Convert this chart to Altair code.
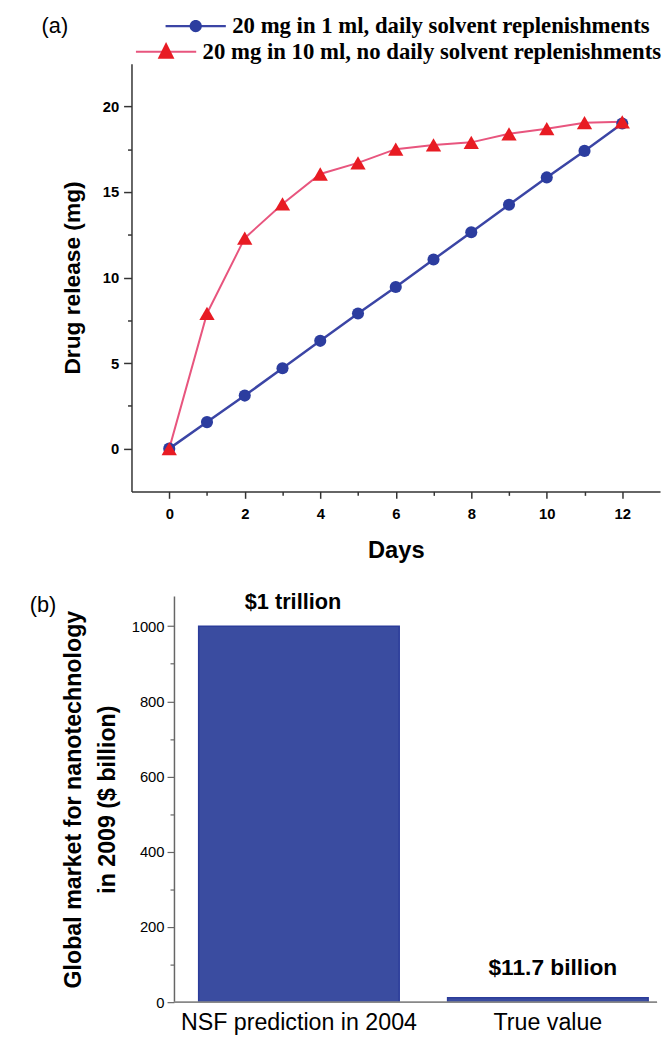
import altair as alt
import pandas as pd

# ---------------- Panel (a) data ----------------
days = list(range(13))
daily_replenish = [0, 1.55, 3.1, 4.7, 6.3, 7.9, 9.45, 11.05, 12.65, 14.25, 15.85, 17.4, 19.0]
no_replenish = [0, 7.9, 12.3, 14.3, 16.05, 16.7, 17.5, 17.75, 17.9, 18.4, 18.7, 19.05, 19.1]
series_names = ["20 mg in 1 ml, daily solvent replenishments",
                "20 mg in 10 ml, no daily solvent replenishments"]
x_ticks = list(range(13))
y_ticks = [0, 2.5, 5, 7.5, 10, 12.5, 15, 17.5, 20]

# ---------------- Panel (b) data ----------------
bar_categories = ["NSF prediction in 2004", "True value"]
bar_values = [1000, 11.7]
bar_labels = ["$1 trillion", "$11.7 billion"]
bar_y_ticks = list(range(0, 1001, 100))

panel_tags = ["(a)", "(b)"]

BLUE_LINE = "#3b45a5"
BLUE_PT = "#2c3d9f"
RED_LINE = "#e8557e"
RED_PT = "#e81b23"
BAR = "#3a4ca0"
SANS = "Liberation Sans"
SERIF = "Liberation Serif"

df = pd.DataFrame({
    "day": days * 2,
    "value": daily_replenish + no_replenish,
    "series": [series_names[0]] * len(days) + [series_names[1]] * len(days),
})
bdf = pd.DataFrame({"cat": bar_categories, "val": bar_values, "label": bar_labels})

# legend symbol glyphs (unit space, scaled by sqrt(symbolSize)/2)
PATH_LINE = ("M-3.05,-0.11L-0.4,-0.11L-0.4,0.11L-3.05,0.11Z"
             "M0.4,-0.11L3.05,-0.11L3.05,0.11L0.4,0.11Z")
PATH_CIRCLE = "M0.62,0A0.62,0.62,0,1,1,-0.62,0A0.62,0.62,0,1,1,0.62,0Z"
PATH_TRI = "M0,-1L0.85,0.7L-0.85,0.7Z"


def tsize(test, major, minor, cond):
    if cond:
        return {"condition": {"test": test, "value": major}, "value": minor}
    return major


def tag_layer(chart_base, field, tag, lx, ly):
    """Panel tag drawn as a one-entry legend with an invisible symbol."""
    leg = alt.Legend(title=None, orient="none", legendX=lx, legendY=ly,
                     symbolSize=1, symbolOpacity=0, symbolStrokeWidth=0,
                     labelFont=SANS, labelFontSize=22, labelColor="black",
                     labelOffset=0, labelLimit=200, padding=0, offset=0)
    return chart_base.transform_filter("false").mark_point(opacity=0).encode(
        shape=alt.Shape(f"{field}:N", scale=alt.Scale(domain=[tag], range=["circle"]),
                        legend=leg))


def build(cond=True):
    x = alt.X("day:Q", scale=alt.Scale(domain=[-1, 13], nice=False, zero=False),
              axis=alt.Axis(title="Days", values=x_ticks,
                            labelExpr="datum.value % 2 === 0 ? datum.label : ''",
                            tickSize=tsize("datum.value % 2 === 0", 7, 4, cond),
                            grid=False, labelFont=SANS, labelFontWeight="bold",
                            labelFontSize=15, labelColor="black", labelPadding=8,
                            titleFont=SANS, titleFontWeight="bold", titleFontSize=24,
                            titleColor="black", titlePadding=18,
                            domainColor="#333", tickColor="#333",
                            domainWidth=1.5, tickWidth=1.5))
    y = alt.Y("value:Q", scale=alt.Scale(domain=[-2.5, 22.5], nice=False, zero=False),
              axis=alt.Axis(title="Drug release (mg)", values=y_ticks,
                            labelExpr="datum.value % 5 === 0 ? format(datum.value, 'd') : ''",
                            tickSize=tsize("datum.value % 5 === 0", 8, 4, cond),
                            grid=False, labelFont=SANS, labelFontWeight="bold",
                            labelFontSize=15, labelColor="black", labelPadding=5,
                            titleFont=SANS, titleFontWeight="bold", titleFontSize=23,
                            titleColor="black", titlePadding=18,
                            domainColor="#333", tickColor="#333",
                            domainWidth=1.5, tickWidth=1.5))

    base = alt.Chart(df).encode(x=x, y=y)
    f0 = alt.datum.series == series_names[0]
    f1 = alt.datum.series == series_names[1]

    line_blue = base.transform_filter(f0).mark_line(color=BLUE_LINE, strokeWidth=2.5)
    line_red = base.transform_filter(f1).mark_line(color=RED_LINE, strokeWidth=2)
    pts_blue = base.transform_filter(f0).mark_point(shape="circle", filled=True, size=150,
                                                     color=BLUE_PT, opacity=1)
    pts_red = base.transform_filter(f1).mark_point(shape="triangle-up", filled=True, size=240,
                                                    color=RED_PT, opacity=1)

    def legend_layer(name, path, fill, lx, ly, show_label):
        leg = alt.Legend(title=None, orient="none", legendX=lx, legendY=ly,
                         symbolSize=400, symbolFillColor=fill, symbolStrokeWidth=0,
                         symbolOpacity=1,
                         labelFont=SERIF, labelFontWeight="bold", labelFontSize=23,
                         labelColor="black", labelOpacity=1 if show_label else 0,
                         labelOffset=25.5, labelLimit=700, padding=0, offset=0)
        return base.transform_filter("false").mark_point(
            filled=True, color=fill, strokeWidth=0, opacity=1
        ).encode(shape=alt.Shape("series:N",
                                 scale=alt.Scale(domain=[name], range=[path]),
                                 legend=leg))

    row1_y, row2_y = -49.5, -23.5
    legs = [
        legend_layer(series_names[0], PATH_LINE, BLUE_LINE, 53.5, row1_y, False),
        legend_layer(series_names[0], PATH_CIRCLE, BLUE_PT, 53.5, row1_y, True),
        legend_layer(series_names[1], PATH_LINE, RED_LINE, 23.5, row2_y, False),
        legend_layer(series_names[1], PATH_TRI, RED_PT, 23.5, row2_y, True),
        tag_layer(base, "series", panel_tags[0], -113, row1_y + 0.5),
    ]

    top = alt.layer(line_red, line_blue, pts_blue, pts_red, *legs).resolve_scale(
        shape="independent").resolve_legend(shape="independent").properties(
        width=535, height=433)

    # ---------------- Panel (b) ----------------
    BW = 532
    xb = alt.X("cat:N", sort=bar_categories,
               scale=alt.Scale(paddingInner=0.1944, paddingOuter=0.1528, align=0.883),
               axis=alt.Axis(title=None, labelAngle=0, domain=False, ticks=False,
                             labelFont=SANS, labelFontSize=23.5, labelColor="black",
                             labelPadding=9, labelLimit=400))
    yb = alt.Y("val:Q", scale=alt.Scale(domain=[0, 1080], nice=False),
               axis=alt.Axis(title=["Global market for nanotechnology", "in 2009 ($ billion)"],
                             values=bar_y_ticks, format="d",
                             labelExpr="datum.value % 200 === 0 ? datum.label : ''",
                             tickSize=tsize("datum.value % 200 === 0", 7, 4, cond),
                             offset=-43, grid=False,
                             labelFont=SANS, labelFontSize=15, labelColor="black",
                             labelPadding=3, titleFont=SANS, titleFontWeight="bold",
                             titleFontSize=23.5, titleLineHeight=34, titleColor="black",
                             titlePadding=12, domainColor="#666", tickColor="#666",
                             domainWidth=1.5, tickWidth=1.2))
    bbase = alt.Chart(bdf).encode(x=xb, y=yb)
    bars = bbase.mark_bar(color=BAR, stroke="#2b3c9a", strokeWidth=1.5)
    baseline = alt.Chart(bdf).mark_rule(color="#888", strokeWidth=1.5).encode(
        y=alt.datum(0), x=alt.value(43), x2=alt.value(BW))
    t1 = bbase.transform_filter(alt.datum.cat == bar_categories[0]).mark_text(
        dy=-24.4, dx=-6, font=SANS, fontWeight="bold", fontSize=22, color="black",
        baseline="middle").encode(text="label:N")
    t2 = bbase.transform_filter(alt.datum.cat == bar_categories[1]).mark_text(
        dy=-30.5, dx=5, font=SANS, fontWeight="bold", fontSize=23, color="black",
        baseline="middle").encode(text="label:N")
    tag_b = tag_layer(bbase, "cat", panel_tags[1], -125, -2)

    bottom = alt.layer(bars, baseline, t1, t2, tag_b).resolve_scale(
        shape="independent").resolve_legend(shape="independent").properties(
        width=BW, height=411)

    chart = alt.vconcat(top, bottom, spacing=29).resolve_scale(
        shape="independent").resolve_legend(shape="independent").properties(
        padding=0).configure_view(stroke=None)
    return chart


try:
    chart = build(True)
    chart.to_dict()
except Exception:
    chart = build(False)

chart.save("out.html", embed_options={"renderer": "svg", "actions": False})
